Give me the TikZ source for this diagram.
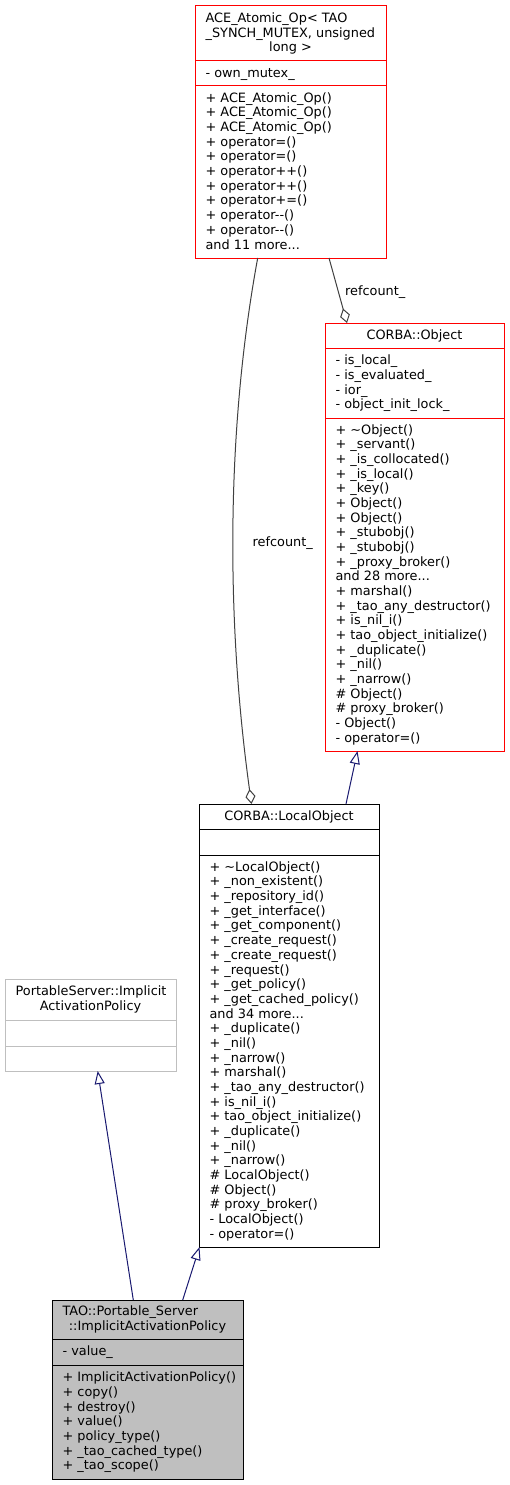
\documentclass[tikz,border=0pt]{standalone}
\usepackage{fontspec}
\setmainfont{DejaVu Sans}
\usetikzlibrary{arrows.meta}
\definecolor{inhc}{HTML}{191970}
\definecolor{aggc}{HTML}{404040}
\definecolor{grayfill}{HTML}{BFBFBF}
\definecolor{redc}{HTML}{FF0000}
\newcommand\dxfont{\fontsize{12.85}{14.67}\selectfont}
\newcommand\fs{\rule{0pt}{11pt}}
\begin{document}
\begin{tikzpicture}[x=1pt,y=-1pt,
  box/.style={draw, line width=1pt, inner sep=0pt, outer sep=0pt, anchor=north west},
  txt/.style={font=\dxfont, inner sep=0pt, outer sep=0pt, align=left, anchor=north west, text=black},
  ctxt/.style={font=\dxfont, inner sep=0pt, outer sep=0pt, anchor=north, text=black},
  agg/.style={draw=aggc, line width=1pt, -{Diamond[open, length=15pt, width=10pt]}},
  inh/.style={draw=inhc, line width=1pt, -{Triangle[open, length=13pt, width=10pt]}},
  lbl/.style={font=\dxfont, inner sep=0pt, anchor=base west, text=black}]
\useasboundingbox (0,0) rectangle (509,1485);
\fill[white] (0,0) rectangle (509,1485);

% ACE_Atomic_Op
\node[box, draw=redc, minimum width=191, minimum height=252] (ace) at (195,6) {};
\draw[redc, line width=1pt] ([yshift=-55]ace.north west) -- ([yshift=-55]ace.north east);
\draw[redc, line width=1pt] ([yshift=-80]ace.north west) -- ([yshift=-80]ace.north east);
\node[txt] (aceT) at (205.6,11.5) {\fs ACE\_Atomic\_Op< TAO\\\_SYNCH\_MUTEX, unsigned};
\node[ctxt] (aceT2) at (290.5,40.8) {\fs long >};
\node[txt] (aceA) at (205.6,66.2) {\fs - own\_mutex\_};
\node[txt] (aceM) at (205.6,91.3) {\fs + ACE\_Atomic\_Op()\\+ ACE\_Atomic\_Op()\\+ ACE\_Atomic\_Op()\\+ operator=()\\+ operator=()\\+ operator++()\\+ operator++()\\+ operator+=()\\+ operator-{}-()\\+ operator-{}-()\\and 11 more...};

% CORBA::Object
\node[box, draw=redc, minimum width=179, minimum height=428] (obj) at (325,323) {};
\draw[redc, line width=1pt] ([yshift=-25]obj.north west) -- ([yshift=-25]obj.north east);
\draw[redc, line width=1pt] ([yshift=-95]obj.north west) -- ([yshift=-95]obj.north east);
\node[ctxt] (objT) at (414.5,328.2) {\fs CORBA::Object};
\node[txt] (objA) at (335.6,353.7) {\fs - is\_local\_\\- is\_evaluated\_\\- ior\_\\- object\_init\_lock\_};
\node[txt] (objM) at (335.6,423.1) {\fs + \textasciitilde Object()\\+ \_servant()\\+ \_is\_collocated()\\+ \_is\_local()\\+ \_key()\\+ Object()\\+ Object()\\+ \_stubobj()\\+ \_stubobj()\\+ \_proxy\_broker()\\and 28 more...\\+ marshal()\\+ \_tao\_any\_destructor()\\+ is\_nil\_i()\\+ tao\_object\_initialize()\\+ \_duplicate()\\+ \_nil()\\+ \_narrow()\\\# Object()\\\# proxy\_broker()\\- Object()\\- operator=()};

% CORBA::LocalObject
\node[box, draw=black, minimum width=180, minimum height=443] (loc) at (199,804) {};
\draw[black, line width=1pt] ([yshift=-25]loc.north west) -- ([yshift=-25]loc.north east);
\draw[black, line width=1pt] ([yshift=-51]loc.north west) -- ([yshift=-51]loc.north east);
\node[ctxt] (locT) at (289,809.2) {\fs CORBA::LocalObject};
\node[txt] (locM) at (209.6,860.3) {\fs + \textasciitilde LocalObject()\\+ \_non\_existent()\\+ \_repository\_id()\\+ \_get\_interface()\\+ \_get\_component()\\+ \_create\_request()\\+ \_create\_request()\\+ \_request()\\+ \_get\_policy()\\+ \_get\_cached\_policy()\\and 34 more...\\+ \_duplicate()\\+ \_nil()\\+ \_narrow()\\+ marshal()\\+ \_tao\_any\_destructor()\\+ is\_nil\_i()\\+ tao\_object\_initialize()\\+ \_duplicate()\\+ \_nil()\\+ \_narrow()\\\# LocalObject()\\\# Object()\\\# proxy\_broker()\\- LocalObject()\\- operator=()};

% PortableServer::ImplicitActivationPolicy
\node[box, draw=grayfill, minimum width=171, minimum height=92] (ps) at (5,979) {};
\draw[grayfill, line width=1pt] ([yshift=-41]ps.north west) -- ([yshift=-41]ps.north east);
\draw[grayfill, line width=1pt] ([yshift=-67]ps.north west) -- ([yshift=-67]ps.north east);
\node[txt] (psT) at (15.6,984.8) {\fs PortableServer::Implicit};
\node[ctxt] (psT2) at (90.5,999.5) {\fs ActivationPolicy};

% TAO::Portable_Server::ImplicitActivationPolicy
\node[box, draw=black, fill=grayfill, minimum width=191, minimum height=179] (tao) at (52,1300) {};
\draw[black, line width=1pt] ([yshift=-39]tao.north west) -- ([yshift=-39]tao.north east);
\draw[black, line width=1pt] ([yshift=-65]tao.north west) -- ([yshift=-65]tao.north east);
\node[txt] (taoT) at (62.6,1304.8) {\fs TAO::Portable\_Server};
\node[ctxt] (taoT2) at (147.5,1319.5) {\fs ::ImplicitActivationPolicy};
\node[txt] (taoA) at (62.6,1344.7) {\fs - value\_};
\node[txt] (taoM) at (62.6,1370.7) {\fs + ImplicitActivationPolicy()\\+ copy()\\+ destroy()\\+ value()\\+ policy\_type()\\+ \_tao\_cached\_type()\\+ \_tao\_scope()};

% connectors
\draw[agg] ([xshift=62.7]ace.south west) .. controls (226,430) and (226,620) .. ([xshift=52.5]loc.north west);
\node[lbl] (rc1) at (252.5,546.5) {refcount\_};
\draw[agg] ([xshift=134]ace.south west) -- ([xshift=22]obj.north west);
\node[lbl] (rc2) at (345,295) {refcount\_};
\draw[inh] ([xshift=147]loc.north west) -- ([xshift=32.5]obj.south west);
\draw[inh] ([xshift=130.7]tao.north west) -- ([xshift=0.5]loc.south west);
\draw[inh] ([xshift=81.3]tao.north west) -- ([xshift=92.7]ps.south west);
\end{tikzpicture}
\end{document}
